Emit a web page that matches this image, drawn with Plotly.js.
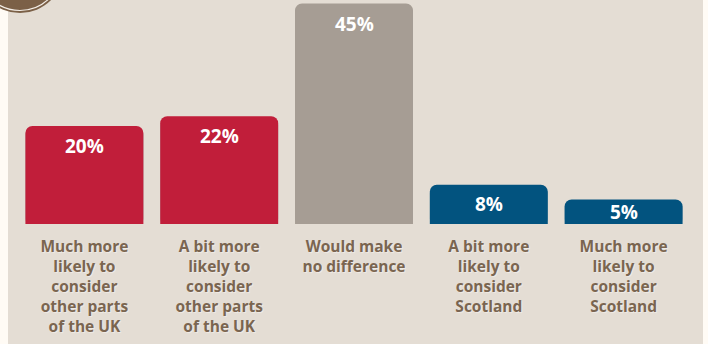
<!DOCTYPE html>
<html>
<head>
<meta charset="utf-8">
<script src="https://cdn.plot.ly/plotly-3.0.1.min.js"></script>
<style>html,body{margin:0;padding:0;background:#fffbf5;}#chart{width:708px;height:344px;}</style>
</head>
<body>
<div id="chart"></div>
<script>
const categories = [
  "Much more<br>likely to<br>consider<br>other parts<br>of the UK",
  "A bit more<br>likely to<br>consider<br>other parts<br>of the UK",
  "Would make<br>no difference",
  "A bit more<br>likely to<br>consider<br>Scotland",
  "Much more<br>likely to<br>consider<br>Scotland"
];
const values = [20, 22, 45, 8, 5];
const valueLabels = ["20%", "22%", "45%", "8%", "5%"];
const barColors = ["#c11e3a", "#c11e3a", "#a69d94", "#02537f", "#02537f"];

const W = 708, H = 344;
const M = {l: 17, r: 17, t: 0, b: 120};
const plotW = W - M.l - M.r, plotH = H - M.t - M.b;
const pxPerUnit = 4.9;
const yMax = plotH / pxPerUnit;
const px = x => (x - M.l) / plotW;
const py = y => (H - M.b - y) / plotH;

const shadow = {
  type: "bar", x: categories, y: values, base: -0.35,
  marker: {color: "#9fabb0", cornerradius: 7},
  hoverinfo: "skip", showlegend: false
};
const bars = {
  type: "bar", x: categories, y: values,
  marker: {color: barColors, cornerradius: 7},
  hoverinfo: "skip", showlegend: false
};

const annotations = values.map((v, i) => ({
  x: categories[i], y: v, xref: "x", yref: "y",
  text: "<b>" + valueLabels[i] + "</b>", showarrow: false,
  yanchor: "middle", yshift: -Math.min(20, v * pxPerUnit / 2),
  font: {family: "Open Sans", size: 19, color: "#ffffff"}
}));

const shapes = [
  {type: "rect", xref: "paper", yref: "paper", x0: px(8), x1: px(703), y0: py(H + 5), y1: py(-5),
   fillcolor: "#e4ddd4", line: {width: 0}, layer: "below"},
  {type: "circle", xref: "paper", yref: "paper", x0: px(20 - 44), x1: px(20 + 44), y0: py(-31 + 44), y1: py(-31 - 44),
   fillcolor: "#7b6047", line: {width: 0}, layer: "above"},
  {type: "circle", xref: "paper", yref: "paper", x0: px(20 - 41.5), x1: px(20 + 41.5), y0: py(-31 + 41.5), y1: py(-31 - 41.5),
   fillcolor: "#7b6047", line: {width: 1.2, color: "#f3ede6"}, layer: "above"}
];

const layout = {
  width: W, height: H,
  margin: M,
  paper_bgcolor: "#fffbf5",
  plot_bgcolor: "rgba(0,0,0,0)",
  barmode: "overlay",
  bargap: 0.125,
  showlegend: false,
  xaxis: {
    type: "category", range: [-0.5, 4.5], fixedrange: true,
    showgrid: false, zeroline: false, showline: false,
    ticks: "outside", ticklen: 8, tickcolor: "rgba(0,0,0,0)",
    tickfont: {family: "Open Sans", size: 15.5, color: "#7a6550", weight: "bold",
               shadow: "1px 1px 1px rgba(255,255,255,0.45)"}
  },
  yaxis: {
    range: [0, yMax], visible: false, fixedrange: true
  },
  annotations: annotations,
  shapes: shapes
};

Plotly.newPlot("chart", [shadow, bars], layout, {displayModeBar: false, staticPlot: true});
</script>
</body>
</html>
